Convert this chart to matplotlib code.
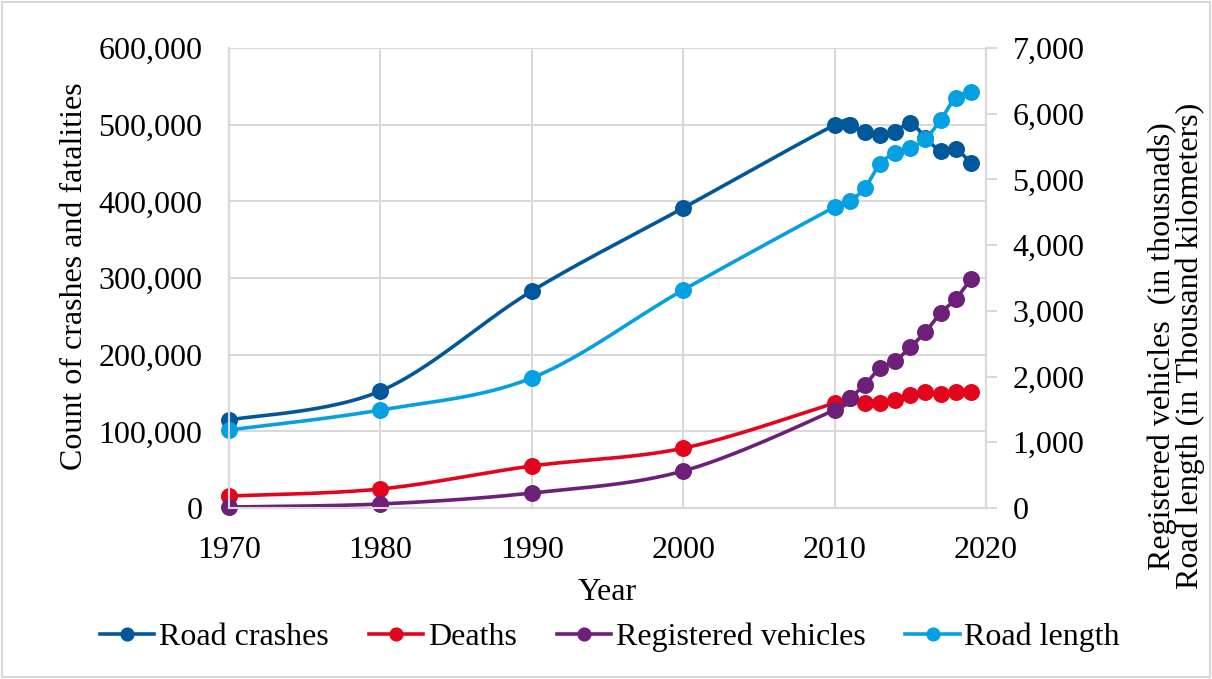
import numpy as np
import matplotlib
matplotlib.use("Agg")
import matplotlib.pyplot as plt
from matplotlib.ticker import FuncFormatter
from matplotlib.patches import Rectangle

FONT_SIZE = 23
LINE_WIDTH = 2.6
MARKER_SIZE = 11.2

years = [1970, 1980, 1990, 2000, 2010, 2011, 2012, 2013, 2014, 2015,
         2016, 2017, 2018, 2019]
road_crashes = [114800, 152600, 283000, 391300, 499500, 499000, 490400,
                486500, 490400, 502000, 483000, 465600, 468000, 450000]
deaths = [15600, 24800, 54800, 78000, 137000, 143500, 137000, 137000,
          141000, 147000, 151000, 149000, 151000, 151000]
registered_vehicles = [15, 61, 228, 563, 1491, 1674, 1872, 2131, 2237,
                       2450, 2679, 2968, 3181, 3485]
road_length = [1187, 1491, 1979, 3318, 4581, 4673, 4871, 5236, 5403,
               5479, 5616, 5905, 6240, 6332]

C_CRASH = "#00589B"
C_DEATH = "#E3051B"
C_VEH = "#6D2077"
C_ROAD = "#05A0E1"
GRID = "#D9D9D9"


def smooth(x, y, n=30):
    # catmull-rom style curve, similar to excel smoothed lines
    x = np.asarray(x, float)
    y = np.asarray(y, float)
    px = np.concatenate([[x[0]], x, [x[-1]]])
    py = np.concatenate([[y[0]], y, [y[-1]]])
    xs, ys = [], []
    t = np.linspace(0, 1, n)
    for i in range(1, len(px) - 2):
        b0x, b0y = px[i], py[i]
        b3x, b3y = px[i + 1], py[i + 1]
        b1x = b0x + (px[i + 1] - px[i - 1]) / 6
        b1y = b0y + (py[i + 1] - py[i - 1]) / 6
        b2x = b3x - (px[i + 2] - px[i]) / 6
        b2y = b3y - (py[i + 2] - py[i]) / 6
        bx = ((1 - t)**3 * b0x + 3 * (1 - t)**2 * t * b1x
              + 3 * (1 - t) * t**2 * b2x + t**3 * b3x)
        by = ((1 - t)**3 * b0y + 3 * (1 - t)**2 * t * b1y
              + 3 * (1 - t) * t**2 * b2y + t**3 * b3y)
        xs.extend(bx)
        ys.extend(by)
    return np.array(xs), np.array(ys)


def draw(ax, x, y, color, label):
    sx, sy = smooth(x, y)
    ax.plot(sx, sy, color=color, linewidth=LINE_WIDTH,
            solid_capstyle="round", clip_on=False)
    ax.plot(x, y, "o", color=color, markersize=MARKER_SIZE, clip_on=False)
    return plt.Line2D([], [], color=color, linewidth=LINE_WIDTH, marker="o",
                      markersize=MARKER_SIZE * 0.82, label=label)


plt.rcParams["font.family"] = ["Liberation Serif", "DejaVu Serif"]
plt.rcParams["font.size"] = FONT_SIZE

fig = plt.figure(figsize=(12.12, 6.79), dpi=100)
ax = fig.add_axes([229 / 1212, 1 - 508 / 679, (986 - 229) / 1212, 460 / 679])
ax2 = ax.twinx()

h1 = draw(ax, years, road_crashes, C_CRASH, "Road crashes")
h2 = draw(ax, years, deaths, C_DEATH, "Deaths")
h3 = draw(ax2, years, registered_vehicles, C_VEH, "Registered vehicles")
h4 = draw(ax2, years, road_length, C_ROAD, "Road length")

ax.set_xlim(1970, 2020)
ax.set_ylim(0, 600000)
ax2.set_ylim(0, 7000)
ax.set_xticks(range(1970, 2021, 10))
ax.set_yticks(range(0, 600001, 100000))
ax2.set_yticks(range(0, 7001, 1000))
fmt = FuncFormatter(lambda v, p: f"{int(v):,}")
ax.yaxis.set_major_formatter(fmt)
ax2.yaxis.set_major_formatter(fmt)

ax.grid(True, color=GRID, linewidth=1.5)
ax.set_axisbelow(True)
for a in (ax, ax2):
    a.spines["top"].set_visible(False)
    for s in ("left", "right", "bottom"):
        a.spines[s].set_color(GRID)
        a.spines[s].set_linewidth(1.5)
ax.tick_params(axis="y", length=0, pad=19)
ax.tick_params(axis="x", length=0, pad=20)
ax2.tick_params(axis="y", length=8, width=1.5, color=GRID, pad=11)

fig.text(75 / 1212, 1 - 276 / 679, "Count of crashes and fatalities",
         rotation=90, ha="center", va="center")
fig.text(1176 / 1212, 1 - 346 / 679,
         "Registered vehicles  (in thousnads)\nRoad length (in Thousand kilometers)",
         rotation=90, ha="center", va="center", linespacing=0.95)
fig.text(607 / 1212, 1 - 592 / 679, "Year", ha="center", va="center")

fig.legend(handles=[h1, h2, h3, h4], loc="center", ncol=4,
           bbox_to_anchor=(610 / 1212, 1 - 637 / 679), frameon=False,
           handlelength=1.7, handletextpad=0.15, columnspacing=1.25,
           fontsize=FONT_SIZE)

fig.patches.append(Rectangle((0.002, 0.003), 0.996, 0.994,
                             transform=fig.transFigure, fill=False,
                             edgecolor=GRID, linewidth=1.5))

fig.savefig("out.png", dpi=100)
